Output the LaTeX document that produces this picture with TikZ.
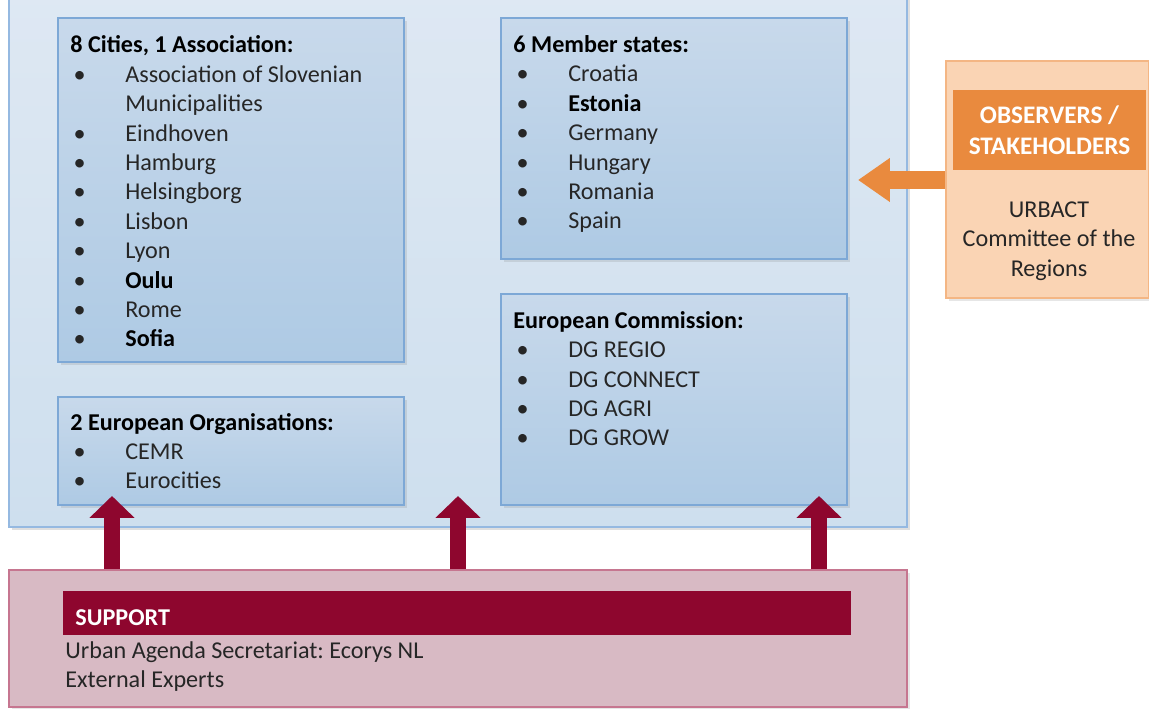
\documentclass[tikz,border=0pt]{standalone}
\usepackage{fontspec}
\setmainfont{Carlito}
\frenchspacing
\usetikzlibrary{fit,arrows.meta,shadows}

\definecolor{frameblue}{RGB}{149,185,225}
\definecolor{outertop}{RGB}{222,232,243}
\definecolor{outerbot}{RGB}{206,223,238}
\definecolor{paneltop}{RGB}{200,217,235}
\definecolor{panelbot}{RGB}{174,202,228}
\definecolor{panelline}{RGB}{125,168,214}
\definecolor{peach}{RGB}{250,212,180}
\definecolor{peachline}{RGB}{244,182,132}
\definecolor{orangehead}{RGB}{233,138,62}
\definecolor{rose}{RGB}{216,186,196}
\definecolor{roseline}{RGB}{198,118,144}
\definecolor{wine}{RGB}{142,6,46}
\definecolor{ink}{RGB}{38,38,38}

\newlength\bulw
\setlength\bulw{25pt}
\newcommand\bul{\makebox[\bulw][l]{\hspace{1.5pt}\textbullet}}

\tikzset{
  outer/.style={draw=frameblue, line width=0.8pt, top color=outertop, bottom color=outerbot,
    inner sep=0pt, drop shadow={shadow xshift=1.5pt, shadow yshift=-1.5pt, opacity=0.25}},
  panel/.style={draw=panelline, line width=0.6pt, top color=paneltop, bottom color=panelbot,
    inner sep=0pt, drop shadow={shadow xshift=1.2pt, shadow yshift=-1.2pt, opacity=0.2}},
  obsbox/.style={draw=peachline, line width=0.8pt, fill=peach, inner sep=0pt,
    drop shadow={shadow xshift=1.2pt, shadow yshift=-1.2pt, opacity=0.2}},
  obshead/.style={fill=orangehead, inner sep=0pt, text=white, align=center,
    font=\fontsize{11.5}{14.2}\selectfont\bfseries},
  supbox/.style={draw=roseline, line width=0.8pt, fill=rose, inner sep=0pt,
    drop shadow={shadow xshift=1.2pt, shadow yshift=-1.2pt, opacity=0.2}},
  suphead/.style={fill=wine, inner sep=0pt},
  % anchored at the baseline of the last line
  listtext/.style={anchor=base west, align=left, inner sep=0pt, text=ink,
    font=\fontsize{11}{13.4}\selectfont},
  uparrow/.style={wine, line width=7.3pt, -{Triangle[width=20pt, length=10pt]}},
  sidearrow/.style={orangehead, line width=8.2pt, -{Triangle[width=19pt, length=14.5pt]}}
}

\begin{document}
\begin{tikzpicture}[x=0.016cm, y=-0.016cm]
\useasboundingbox (0,0) rectangle (1149,709);

% Partnership frame
\node[outer, fit={(9,-12) (907,527)}] (frame) {};

% Panels
\node[panel, fit={(58,18) (404,362)}] (cities) {};
\node[panel, fit={(501,18) (847,259)}] (states) {};
\node[panel, fit={(501,294) (847,505)}] (commission) {};
\node[panel, fit={(58,397) (404,505)}] (orgs) {};

% Lists
\node[listtext] (citiesL) at (70,347) {\textbf{\color{black}8 Cities, 1 Association:}\\
  \bul Association of Slovenian\\
  \hspace*{\bulw}Municipalities\\
  \bul Eindhoven\\
  \bul Hamburg\\
  \bul Helsingborg\\
  \bul Lisbon\\
  \bul Lyon\\
  \bul\textbf{\color{black}Oulu}\\
  \bul Rome\\
  \bul\textbf{\color{black}Sofia}};

\node[listtext] (statesL) at (513,229) {\textbf{\color{black}6 Member states:}\\
  \bul Croatia\\
  \bul\textbf{\color{black}Estonia}\\
  \bul Germany\\
  \bul Hungary\\
  \bul Romania\\
  \bul Spain};

\node[listtext] (commissionL) at (513,446) {\textbf{\color{black}European Commission:}\\
  \bul DG REGIO\\
  \bul DG CONNECT\\
  \bul DG AGRI\\
  \bul DG GROW};

\node[listtext] (orgsL) at (70,489) {\textbf{\color{black}2 European Organisations:}\\
  \bul CEMR\\
  \bul Eurocities};

% Observers
\node[obsbox, fit={(946,61) (1149,298)}] (observers) {};
\node[obshead, fit={(953,90) (1146,170)}] (obshdr) {};
\node[obshead, fill=none] (obstitle) at (obshdr.center) {OBSERVERS /\\STAKEHOLDERS};
\node[align=center, inner sep=0pt, text=ink, font=\fontsize{11}{13.4}\selectfont]
  (obsL) at (1049,241) {URBACT\\Committee of the\\Regions};

% Support
\node[supbox, fit={(9,570) (907,707)}] (support) {};
\node[suphead, fit={(63,591) (851,635)}] (suphdr) {};
\node[listtext, text=white] (supT) at (75,626) {\textbf{SUPPORT}};
\node[listtext] (supL) at (65,688) {Urban Agenda Secretariat: Ecorys NL\\External Experts};

% Arrows
\coordinate (up1) at (112,496);
\coordinate (up2) at (458,496);
\coordinate (up3) at (819,496);
\coordinate (side) at (858,180);
\draw[uparrow] (support.north -| up1) -- (up1);
\draw[uparrow] (support.north -| up2) -- (up2);
\draw[uparrow] (support.north -| up3) -- (up3);
\draw[sidearrow] (observers.west |- side) -- (side);
\end{tikzpicture}
\end{document}
